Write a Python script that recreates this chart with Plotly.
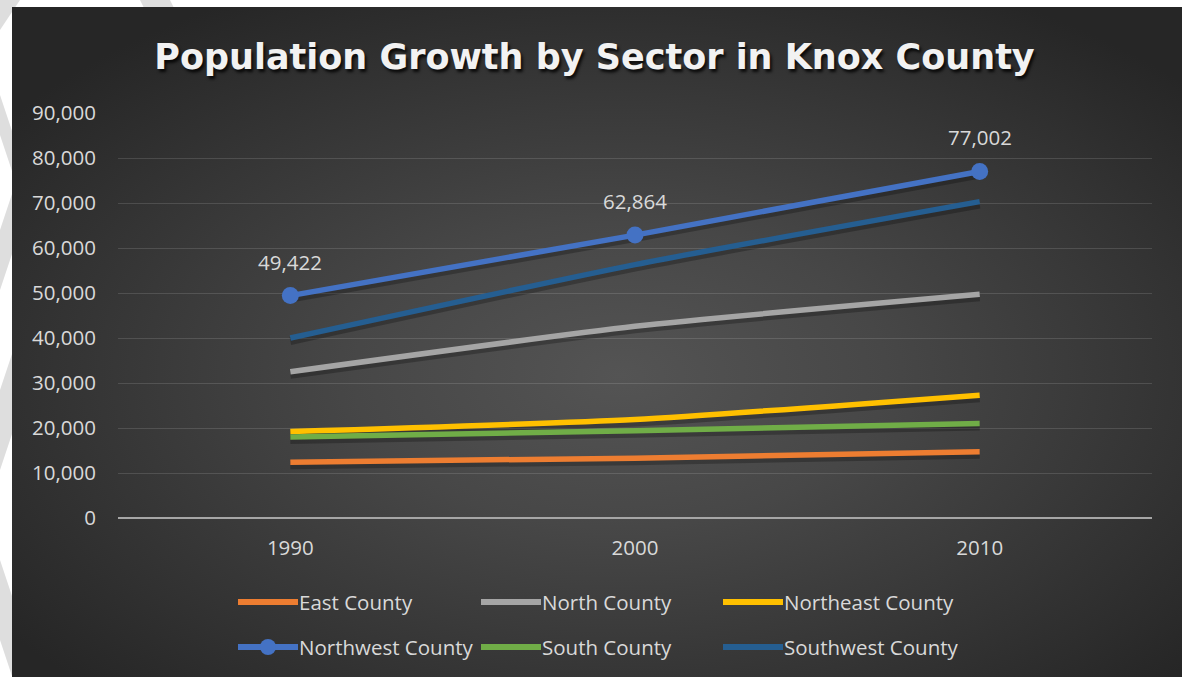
import base64
import plotly.graph_objects as go

# ---------------- data ----------------
years = [1990, 2000, 2010]
series_names = ["East County", "North County", "Northeast County",
                "Northwest County", "South County", "Southwest County"]
east = [12400, 13300, 14700]
north = [32500, 42600, 49700]
northeast = [19200, 21900, 27300]
northwest = [49422, 62864, 77002]
south = [18000, 19400, 21000]
southwest = [40000, 56300, 70300]
y_tick_vals = [0, 10000, 20000, 30000, 40000, 50000, 60000, 70000, 80000, 90000]
y_tick_text = ["0", "10,000", "20,000", "30,000", "40,000", "50,000",
               "60,000", "70,000", "80,000", "90,000"]
x_tick_text = ["1990", "2000", "2010"]

series_values = [east, north, northeast, northwest, south, southwest]
colors = ["#ED7D31", "#A5A5A5", "#FFC000", "#4472C4", "#70AD47", "#255E91"]
labelled_series = "Northwest County"

# ---------------- geometry ----------------
W, H = 1189, 677
ML, MR, MT, MB = 118, 37, 113, 159
PW, PH = W - ML - MR, H - MT - MB
Y_MAX = 90000
TEXT_COL = "#D9D9D9"
FONT = "Open Sans"
FS = 20.5


def px(x):
    return (x - ML) / PW


def py(y):
    return (H - MB - y) / PH


# background: white page, grey watermark stripes, dark radial-gradient chart area
svg = f'''<svg xmlns="http://www.w3.org/2000/svg" width="{W}" height="{H}" viewBox="0 0 {W} {H}">
<defs><radialGradient id="g" cx="0.52" cy="0.55" r="0.65">
<stop offset="0" stop-color="#545454"/><stop offset="0.35" stop-color="#474747"/>
<stop offset="1" stop-color="#262626"/></radialGradient></defs>
<rect width="{W}" height="{H}" fill="#ffffff"/>
<g fill="#DEDEDE">
<polygon points="0,0 0,30 40,-30 40,-60"/>
<polygon points="0,95 0,135 40,255 40,215"/>
<polygon points="0,230 0,290 40,170 40,110"/>
<polygon points="0,390 0,470 40,350 40,270"/>
<polygon points="0,560 0,640 40,760 40,680"/>
<polygon points="140,0 170,0 175,10 145,10"/>
</g>
<rect x="12" y="7" width="{1182-12}" height="{H-7}" fill="url(#g)"/>
</svg>'''
bg_src = "data:image/svg+xml;base64," + base64.b64encode(svg.encode()).decode()

fig = go.Figure()

# soft drop shadows under the lines (3 px down)
shadow_dy = 3 * Y_MAX / PH
for name, vals in zip(series_names, series_values):
    fig.add_trace(go.Scatter(
        x=years, y=[v - shadow_dy for v in vals], mode="lines",
        line=dict(color="rgba(0,0,0,0.25)", width=8, shape="spline", smoothing=0.6),
        hoverinfo="skip", showlegend=False))

for name, vals, col in zip(series_names, series_values, colors):
    is_lab = name == labelled_series
    fig.add_trace(go.Scatter(
        x=years, y=vals, name=name,
        mode="lines+markers" if is_lab else "lines",
        line=dict(color=col, width=5.5, shape="spline", smoothing=0.6),
        marker=dict(size=17, color=col) if is_lab else None,
        showlegend=False))
    if is_lab:
        for xv, yv in zip(years, vals):
            fig.add_annotation(x=xv, y=yv, text=f"{yv:,}", showarrow=False,
                               yshift=34, font=dict(family=FONT, size=FS, color=TEXT_COL))

# manual legend (3 columns x 2 rows) with long line samples
shapes = []
col_x = [238, 481, 723]
row_y = [602, 647]
for i, (name, col) in enumerate(zip(series_names, colors)):
    r, c = divmod(i, 3)
    x0, yy = col_x[c], row_y[r]
    shapes.append(dict(type="line", xref="paper", yref="paper",
                       x0=px(x0), x1=px(x0 + 60), y0=py(yy), y1=py(yy),
                       line=dict(color=col, width=6), layer="above"))
    if name == labelled_series:
        shapes.append(dict(type="circle", xref="paper", yref="paper",
                           x0=px(x0 + 30 - 8), x1=px(x0 + 30 + 8),
                           y0=py(yy + 8), y1=py(yy - 8),
                           fillcolor=col, line=dict(width=0), layer="above"))
    fig.add_annotation(xref="paper", yref="paper", x=px(x0 + 59), y=py(yy),
                       xanchor="left", yanchor="middle", text=name, showarrow=False,
                       font=dict(family=FONT, size=FS, color=TEXT_COL))

fig.update_layout(
    width=W, height=H,
    margin=dict(l=ML, r=MR, t=MT, b=MB),
    paper_bgcolor="#ffffff",
    plot_bgcolor="rgba(0,0,0,0)",
    showlegend=False,
    shapes=shapes,
    images=[dict(source=bg_src, xref="paper", yref="paper",
                 x=px(0), y=py(0), sizex=W / PW, sizey=H / PH,
                 xanchor="left", yanchor="top", sizing="stretch", layer="below")],
    title=dict(text="Population Growth by Sector in Knox County",
               x=0.5, xanchor="center", y=1 - 57 / H, yanchor="middle",
               font=dict(family="DejaVu Sans", size=35, weight=700, color="#F2F2F2",
                         shadow="2px 3px 3px rgba(0,0,0,0.8)")),
    xaxis=dict(range=[1985, 2015], tickvals=years, ticktext=x_tick_text,
               showgrid=False, zeroline=False, showline=False, ticks="",
               ticklabelstandoff=15,
               tickfont=dict(family=FONT, size=FS, color=TEXT_COL)),
    yaxis=dict(range=[0, Y_MAX], tickvals=y_tick_vals, ticktext=y_tick_text,
               showgrid=True, gridcolor="rgba(255,255,255,0.13)", gridwidth=1,
               zeroline=True, zerolinecolor="#A6A6A6", zerolinewidth=2,
               showline=False, ticks="", ticklabelstandoff=21,
               tickfont=dict(family=FONT, size=FS, color=TEXT_COL)),
)

fig.write_html("out.html")
